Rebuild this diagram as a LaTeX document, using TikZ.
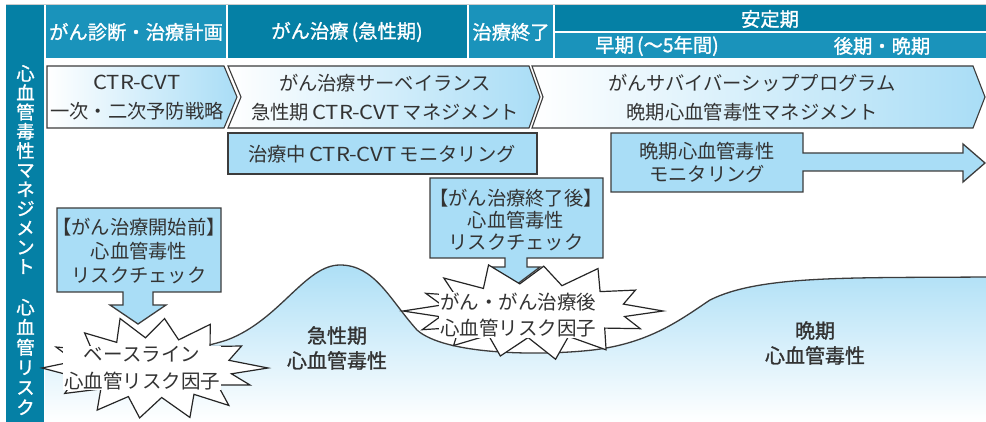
\documentclass[tikz,border=0pt]{standalone}
\usepackage{fontspec}
\usetikzlibrary{calc}
\newfontfamily\jp{Noto Sans CJK JP}
\newfontfamily\jpm[FakeBold=1.2]{Noto Sans CJK JP}
\newfontfamily\lat[FakeStretch=1.14]{Noto Sans CJK JP}
\newcommand\ctrcvt{{\lat CTR-CVT}}
\definecolor{dteal}{HTML}{0580A5}
\definecolor{lteal}{HTML}{1A93BB}
\definecolor{lblue}{HTML}{A9DDF6}
\definecolor{curvetop}{HTML}{ADDFF6}
\definecolor{edge}{HTML}{3C3C3C}
\definecolor{txt}{HTML}{333333}
\newcommand\burst[5]{%
  \filldraw[burststy] ({#1+#3},{#2})
  \foreach \a/\s in {#5} { -- ({#1+(#3-1.3*\s)*cos(\a)},{#2+(#4-0.8*\s)*sin(\a)}) } -- cycle;}
\begin{document}
\begin{tikzpicture}[x=1pt,y=-1pt,
  hdr/.style={font=\jpm\fontsize{19.3}{22}\selectfont, text=white, inner sep=0},
  side/.style={font=\jpm\fontsize{18.3}{19.3}\selectfont, text=white, align=center, inner sep=0},
  chev/.style={draw=edge, line width=1.1pt, left color=white, right color=lblue},
  chevtxt/.style={font=\jp\fontsize{19.3}{29}\selectfont, text=txt, align=center, inner sep=0},
  boxsty/.style={draw=edge, line width=1.3pt, fill=lblue, line join=miter},
  boxtxt/.style={font=\jp\fontsize{19.3}{24}\selectfont, text=txt, align=center, inner sep=0},
  burststy/.style={draw=black!85, line width=1.2pt, fill=white, line join=miter},
  bursttxt/.style={font=\jp\fontsize{19.5}{26.5}\selectfont, text=txt, align=center, inner sep=0.8pt, fill=white},
  curvetxt/.style={font=\jpm\fontsize{20}{25}\selectfont, text=txt, align=center, inner sep=0}]
\useasboundingbox (0,0) rectangle (986,422);
\fill[white] (0,0) rectangle (986,422);
\draw[black!20, line width=0.8pt] (6,4.2) -- (986,4.2);
% sidebar
\fill[dteal] (6,5) rectangle (44,422);
\node[side] (sbtop) at (25.5,169.5) {心\\血\\管\\毒\\性\\マ\\ネ\\ジ\\メ\\ン\\ト};
\node[side, font=\jpm\fontsize{18.3}{20}\selectfont] (sbbot) at (25.5,357) {心\\血\\管\\リ\\ス\\ク};
% header
\fill[lteal] (46,5) rectangle (226,58);
\fill[dteal] (228,5) rectangle (467,58);
\fill[lteal] (469,5) rectangle (553,58);
\fill[dteal] (555,5) rectangle (986,31);
\fill[lteal] (555,33) rectangle (986,58);
\node[hdr] (h1) at (136,32) {がん診断・治療計画};
\node[hdr] (h2) at (347,32) {がん治療\,(急性期)};
\node[hdr] (h3) at (511,32) {治療終了};
\node[hdr] (h4) at (770,19) {安定期};
\node[hdr] (h5) at (657,46) {早期\,(〜5年間)};
\node[hdr] (h6) at (882,46) {後期・晩期};
% chevrons
\path[chev] (47,66) -- (224,66) -- (237,97) -- (224,128) -- (47,128) -- cycle;
\path[chev] (228,66) -- (529,66) -- (540,97) -- (529,128) -- (228,128) -- (241,97) -- cycle;
\path[chev] (532,66) -- (973,66) -- (985,97) -- (973,128) -- (532,128) -- (543,97) -- cycle;
\node[chevtxt] (c1) at (137,98) {\ctrcvt\\一次・二次予防戦略};
\node[chevtxt] (c2) at (385,98) {がん治療サーベイランス\\急性期\,\ctrcvt\,マネジメント};
\node[chevtxt] (c3) at (752,98) {がんサバイバーシッププログラム\\晩期心血管毒性マネジメント};
% risk curve
\path[top color=curvetop, bottom color=white]
  (45,368) .. controls (120,362) and (190,352) .. (227,340)
  .. controls (280,320) and (305,265) .. (340,265)
  .. controls (375,265) and (390,300) .. (417,330)
  .. controls (445,355) and (540,356) .. (593,350)
  .. controls (650,343) and (680,320) .. (710,300)
  .. controls (760,275) and (850,278) .. (986,277)
  -- (986,422) -- (45,422) -- cycle;
\draw[edge, line width=1.3pt]
  (45,368) .. controls (120,362) and (190,352) .. (227,340)
  .. controls (280,320) and (305,265) .. (340,265)
  .. controls (375,265) and (390,300) .. (417,330)
  .. controls (445,355) and (540,356) .. (593,350)
  .. controls (650,343) and (680,320) .. (710,300)
  .. controls (760,275) and (850,278) .. (986,277);
\node[curvetxt] (acute) at (337,348) {急性期\\心血管毒性};
\node[curvetxt] (late) at (815,343) {晩期\\心血管毒性};
% monitoring boxes
\path[boxsty] (228,133) rectangle (537,174);
\node[boxtxt] (mon1) at (382,154) {治療中\,\ctrcvt\,モニタリング};
\path[boxsty] (611,133) -- (803,133) -- (803,153) -- (963,153) -- (963,144) -- (985,163)
  -- (963,182) -- (963,171) -- (803,171) -- (803,192) -- (611,192) -- cycle;
\node[boxtxt, font=\jp\fontsize{19.3}{23}\selectfont] (mon2) at (707,163) {晩期心血管毒性\\モニタリング};
% callouts
\path[boxsty] (57,208) -- (221,208) -- (221,292) -- (153,292) -- (153,305) -- (166,305)
  -- (138,324) -- (110,305) -- (123,305) -- (123,292) -- (57,292) -- cycle;
\node[boxtxt] (chk1) at (139,251) {【がん治療開始前】\\心血管毒性\\リスクチェック};
\path[boxsty] (430,178) -- (603,178) -- (603,258) -- (527,258) -- (527,267) -- (540,267)
  -- (516,285) -- (492,267) -- (505,267) -- (505,258) -- (430,258) -- cycle;
\node[boxtxt, font=\jp\fontsize{19.3}{22}\selectfont] (chk2) at (516,220) {【がん治療終了後】\\心血管毒性\\リスクチェック};
% bursts
\burst{155}{368}{113}{52}{11/27, 22/8, 35/28, 48/2, 60/27, 72/0, 85/28, 98/2, 110/27, 122/3, 135/28, 148/5, 164/24, 180/0, 192/24, 205/3, 216/27, 228/6, 240/28, 252/0, 263/27, 275/3, 288/28, 300/2, 315/27, 330/10, 345/28}
\node[bursttxt] (r1) at (142,368) {ベースライン\\心血管リスク因子};
\burst{533}{311}{130}{49}{12/28, 25/9, 40/28, 55/2, 68/27, 80/0, 93/28, 105/3, 118/27, 130/5, 142/28, 155/6, 168/27, 180/0, 193/28, 205/9, 215/27, 225/3, 238/28, 250/0, 262/27, 275/5, 288/28, 300/0, 315/27, 330/9, 345/28}
\node[bursttxt] (r2) at (518,315) {がん・がん治療後\\心血管リスク因子};
\end{tikzpicture}
\end{document}
